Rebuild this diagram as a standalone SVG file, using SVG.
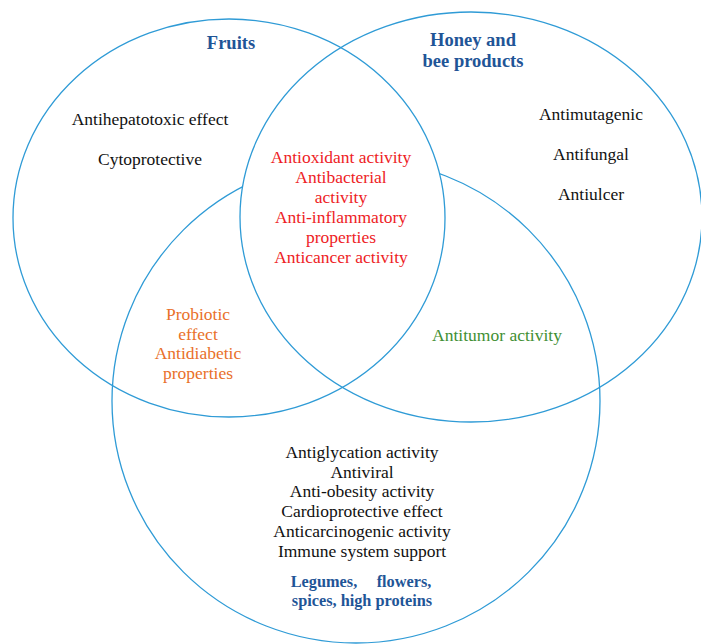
<svg xmlns="http://www.w3.org/2000/svg" width="701" height="644" viewBox="0 0 701 644">
<style>
.c{fill:none;stroke:#2f9bd6;stroke-width:1.3}
text{font-family:"Liberation Serif","Times New Roman",serif;font-size:17.5px;text-anchor:middle}
.t{font-weight:bold;fill:#1f5597;font-size:18.5px}
.k{fill:#111}
.r{fill:#ee1c25}
.o{fill:#e9702a}
.g{fill:#3f8f33}
.b{font-weight:bold;fill:#1f5597;font-size:16.3px}
</style>
<defs>
<clipPath id="fclip"><ellipse cx="229" cy="218" rx="216" ry="199"/></clipPath>
</defs>
<rect width="701" height="644" fill="#fff"/>
<g id="connectors">
<ellipse id="legumes-circle" class="c" cx="356" cy="401" rx="244" ry="242"/>
<ellipse cx="471" cy="217" rx="231" ry="205" fill="#fff" stroke="none" clip-path="url(#fclip)"/>
<ellipse id="fruits-circle" class="c" cx="229" cy="218" rx="216" ry="199"/>
<ellipse id="honey-circle" class="c" cx="471" cy="217" rx="231" ry="205"/>
</g>
<g id="fruits">
<text class="t" x="231" y="49">Fruits</text>
<text class="k" x="150" y="125">Antihepatotoxic effect</text>
<text class="k" x="150" y="165">Cytoprotective</text>
</g>
<g id="honey">
<text class="t" x="473" y="46">Honey and</text>
<text class="t" x="473" y="67">bee products</text>
<text class="k" x="591" y="120">Antimutagenic</text>
<text class="k" x="591" y="160">Antifungal</text>
<text class="k" x="591" y="200">Antiulcer</text>
</g>
<g id="center">
<text class="r" x="341" y="163">Antioxidant activity</text>
<text class="r" x="341" y="183">Antibacterial</text>
<text class="r" x="341" y="203">activity</text>
<text class="r" x="341" y="223">Anti-inflammatory</text>
<text class="r" x="341" y="243">properties</text>
<text class="r" x="341" y="263">Anticancer activity</text>
</g>
<g id="fruits-legumes">
<text class="o" x="198" y="320">Probiotic</text>
<text class="o" x="198" y="340">effect</text>
<text class="o" x="198" y="359">Antidiabetic</text>
<text class="o" x="198" y="379">properties</text>
</g>
<g id="honey-legumes">
<text class="g" x="497" y="341">Antitumor activity</text>
</g>
<g id="legumes">
<text class="k" x="362" y="458">Antiglycation activity</text>
<text class="k" x="362" y="478">Antiviral</text>
<text class="k" x="362" y="497">Anti-obesity activity</text>
<text class="k" x="362" y="517">Cardioprotective effect</text>
<text class="k" x="362" y="537">Anticarcinogenic activity</text>
<text class="k" x="362" y="557">Immune system support</text>
<text class="b" x="324" y="587">Legumes,</text>
<text class="b" x="404" y="587">flowers,</text>
<text class="b" x="362" y="606">spices, high proteins</text>
</g>
</svg>
